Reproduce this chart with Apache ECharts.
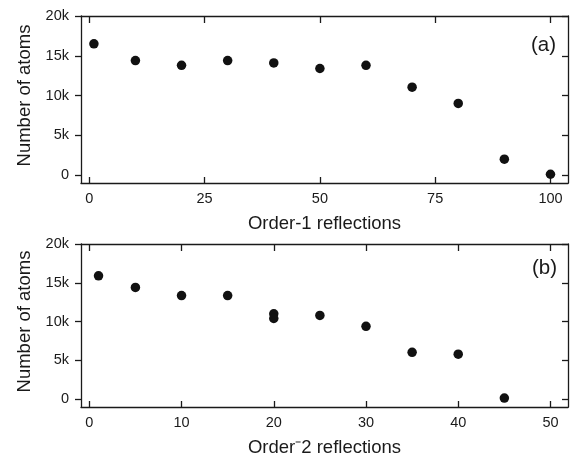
<!DOCTYPE html>
<html>
<head>
<meta charset="utf-8">
<script src="https://cdn.jsdelivr.net/npm/echarts@6/dist/echarts.min.js"></script>
<style>
html,body{margin:0;padding:0;background:#fff;}
#chart{width:571px;height:458px;}
</style>
</head>
<body>
<div id="chart"></div>
<script>
// ---- data ----
const orderA = [1, 10, 20, 30, 40, 50, 60, 70, 80, 90, 100];
const atomsA = [16500, 14400, 13800, 14400, 14100, 13400, 13800, 11050, 9000, 2000, 100];
const orderB = [1, 5, 10, 15, 20, 20, 25, 30, 35, 40, 45];
const atomsB = [15900, 14400, 13350, 13350, 11000, 10400, 10800, 9400, 6050, 5800, 150];
const xTicksA = [0, 25, 50, 75, 100];
const xTicksB = [0, 10, 20, 30, 40, 50];
const yTicks = [0, 5000, 10000, 15000, 20000];
const xNameA = 'Order-1 reflections';
const xNameB = 'Order\u207B2 reflections';
const yName = 'Number of atoms';
const panelLabels = ['(a)', '(b)'];

// ---- chart ----
const FONT = '"Liberation Sans", Arial, Helvetica, sans-serif';
const INK = '#1a1a1a';
const lineStyle = { color: INK, width: 1.3 };
const chart = echarts.init(document.getElementById('chart'), null, { renderer: 'canvas' });

function yFmt(v) { return v === 0 ? '0' : (v / 1000) + 'k'; }

function xAxes(gridIndex, min, max, ticks, name) {
  return [
    {
      type: 'value', gridIndex, position: 'bottom', min, max,
      axisLine: { show: true, onZero: false, lineStyle },
      axisTick: { show: true, inside: true, length: 6, lineStyle, customValues: ticks },
      axisLabel: { show: true, margin: 8, color: INK, fontSize: 14.5, fontFamily: FONT, customValues: ticks },
      splitLine: { show: false },
      name, nameLocation: 'middle', nameGap: 31,
      nameTextStyle: { color: INK, fontSize: 18.5, fontFamily: FONT }
    },
    {
      type: 'value', gridIndex, position: 'top', min, max,
      axisLine: { show: true, onZero: false, lineStyle },
      axisTick: { show: true, inside: true, length: 7, lineStyle, customValues: ticks },
      axisLabel: { show: false },
      splitLine: { show: false }
    }
  ];
}
function yAxes(gridIndex, min, max) {
  return [
    {
      type: 'value', gridIndex, position: 'left', min, max,
      axisLine: { show: true, onZero: false, lineStyle },
      axisTick: { show: true, inside: false, length: 6, lineStyle, customValues: yTicks },
      axisLabel: { show: true, margin: 12, color: INK, fontSize: 14.5, fontFamily: FONT, formatter: yFmt, customValues: yTicks },
      splitLine: { show: false },
      name: yName, nameLocation: 'middle', nameGap: 47, nameRotate: 90,
      nameTextStyle: { color: INK, fontSize: 18.5, fontFamily: FONT, padding: [0, 0, 0, 8] }
    },
    {
      type: 'value', gridIndex, position: 'right', min, max,
      axisLine: { show: true, onZero: false, lineStyle },
      axisTick: { show: true, inside: true, length: 6, lineStyle, customValues: yTicks },
      axisLabel: { show: false },
      splitLine: { show: false }
    }
  ];
}

const option = {
  backgroundColor: '#fff',
  animation: false,
  grid: [
    { left: 81, right: 3, top: 16, height: 167 },
    { left: 81, right: 3, top: 244, height: 168 }
  ],
  xAxis: [
    ...xAxes(0, -1.8, 103.8, xTicksA, xNameA),
    ...xAxes(1, -0.9, 51.9, xTicksB, xNameB)
  ],
  yAxis: [
    ...yAxes(0, -1000, 20000),
    ...yAxes(1, -1000, 20000)
  ],
  series: [
    {
      type: 'scatter', xAxisIndex: 0, yAxisIndex: 0,
      symbol: 'circle', symbolSize: 9.5,
      itemStyle: { color: '#111', opacity: 1 },
      data: orderA.map((x, i) => [x, atomsA[i]])
    },
    {
      type: 'scatter', xAxisIndex: 2, yAxisIndex: 2,
      symbol: 'circle', symbolSize: 9.5,
      itemStyle: { color: '#111', opacity: 1 },
      data: orderB.map((x, i) => [x, atomsB[i]])
    }
  ],
  graphic: [
    { type: 'text', right: 15, top: 35, style: { text: panelLabels[0], fill: INK, font: '20.5px ' + FONT } },
    { type: 'text', right: 14, top: 258, style: { text: panelLabels[1], fill: INK, font: '20.5px ' + FONT } }
  ]
};
chart.setOption(option);
</script>
</body>
</html>
